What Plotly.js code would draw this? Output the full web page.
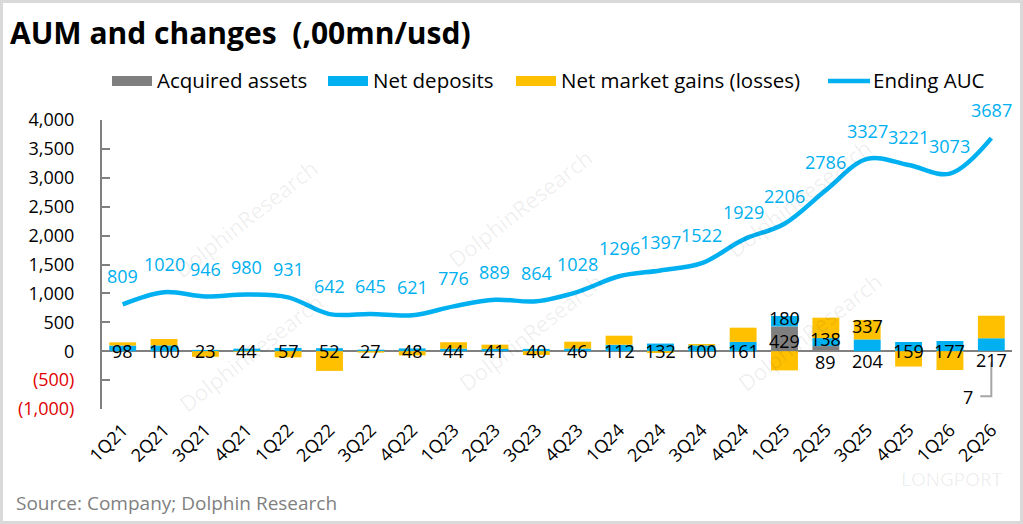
<!DOCTYPE html>
<html>
<head>
<meta charset="utf-8">
<script src="https://cdn.plot.ly/plotly-3.0.1.min.js"></script>
<style>
  html, body { margin: 0; padding: 0; background: #fff; }
  #graphDiv { width: 1023px; height: 524px; }
</style>
</head>
<body>
<div id="graphDiv"></div>
<script>
const quarters = ["1Q21","2Q21","3Q21","4Q21","1Q22","2Q22","3Q22","4Q22","1Q23","2Q23","3Q23","4Q23",
                  "1Q24","2Q24","3Q24","4Q24","1Q25","2Q25","3Q25","4Q25","1Q26","2Q26"];
const acquiredAssets = [0,0,0,0,0,0,0,0,0,0,0,0,0,0,0,0,429,89,0,0,0,7];
const netDeposits = [98,100,23,44,57,52,27,48,44,41,40,46,112,132,100,161,180,138,204,159,177,217];
const netMarket = [55,111,-97,-10,-106,-341,-24,-72,111,72,-65,118,156,-31,25,246,-332,353,337,-265,-325,390];
const endingAUC = [809,1020,946,980,931,642,645,621,776,889,864,1028,1296,1397,1522,1929,2206,2786,3327,3221,3073,3687];
const yTicks = [-1000,-500,0,500,1000,1500,2000,2500,3000,3500,4000];

const BLUE = "#00b0f0", GRAY = "#7f7f7f", GOLD = "#ffc000";
const FONT = "'Open Sans', 'Noto Sans', sans-serif";

// plot area in pixels
const L = 102, R = 1012, T = 120, B = 409;
function px(x) { return (x - L) / (R - L); }
function py(y) { return (B - y) / (B - T); }

function fmtTick(v) {
    let s = Math.abs(v).toLocaleString("en-US");
    return v < 0 ? '<span style="color:#e00000">(' + s + ')</span>' : s;
}

let traces = [
    {x: quarters, y: acquiredAssets, name: "Acquired assets", type: "bar", marker: {color: GRAY}, hoverinfo: "skip"},
    {x: quarters, y: netDeposits, name: "Net deposits", type: "bar", marker: {color: BLUE}, hoverinfo: "skip"},
    {x: quarters, y: netMarket, name: "Net market gains (losses)", type: "bar", marker: {color: GOLD}, hoverinfo: "skip"},
    {x: quarters, y: endingAUC, name: "Ending AUC", type: "scatter", mode: "lines",
     line: {color: BLUE, width: 4.5, shape: "spline", smoothing: 1}, hoverinfo: "skip"}
];

let annotations = [];
let shapes = [];

// Ending AUC labels above the line
endingAUC.forEach((v, i) => {
    annotations.push({x: quarters[i], y: v, text: String(v), showarrow: false, yshift: 28,
                      font: {family: FONT, size: 18, color: BLUE}});
});

// net deposit labels: on the axis, or mid-segment when sitting on acquired assets
const depBelow = {"3Q25": -10, "2Q26": -9};
netDeposits.forEach((v, i) => {
    let q = quarters[i];
    let y = 0, shift = 0;
    if (q in depBelow) { shift = depBelow[q]; }
    else if (acquiredAssets[i] > 0) { y = acquiredAssets[i] + v / 2; shift = 3; }
    annotations.push({x: q, y: y, text: String(v), showarrow: false, yshift: shift,
                      font: {family: FONT, size: 18, color: "#000"}});
});

// acquired assets labels
acquiredAssets.forEach((v, i) => {
    if (v <= 0) return;
    let q = quarters[i];
    let a = {x: q, y: v / 2, yshift: -2, text: String(v), showarrow: false, font: {family: FONT, size: 18, color: "#000"}};
    if (q === "2Q25") { a.y = 0; a.yshift = -11; }
    if (q === "2Q26") {
        a.y = 0; a.yshift = -46; a.xshift = -23;
        shapes.push({type: "path", xref: "x", yref: "y", xsizemode: "pixel", ysizemode: "pixel",
                     xanchor: q, yanchor: 0, path: "M -11,-45 L 0,-45 L 0,-11",
                     line: {color: "#a6a6a6", width: 2}});
    }
    annotations.push(a);
});

// market label shown only for 3Q25
let iq = quarters.indexOf("3Q25");
annotations.push({x: "3Q25", y: acquiredAssets[iq] + netDeposits[iq] + netMarket[iq] / 2, yshift: 4,
                  text: String(netMarket[iq]), showarrow: false, font: {family: FONT, size: 18, color: "#000"}});

// custom legend with wide swatches
const legendItems = [
    {name: "Acquired assets", color: GRAY, x: 112, kind: "bar"},
    {name: "Net deposits", color: BLUE, x: 328, kind: "bar"},
    {name: "Net market gains (losses)", color: GOLD, x: 516, kind: "bar"},
    {name: "Ending AUC", color: BLUE, x: 828, kind: "line"}
];
legendItems.forEach((it) => {
    if (it.kind === "bar") {
        shapes.push({type: "rect", xref: "paper", yref: "paper", x0: px(it.x), x1: px(it.x + 40),
                     y0: py(86), y1: py(76), fillcolor: it.color, line: {width: 0}});
    } else {
        shapes.push({type: "line", xref: "paper", yref: "paper", x0: px(it.x), x1: px(it.x + 42),
                     y0: py(81), y1: py(81), line: {color: it.color, width: 4.5}});
    }
    annotations.push({xref: "paper", yref: "paper", x: px(it.x + 43), y: py(80), xanchor: "left", yanchor: "middle",
                      text: it.name, showarrow: false, font: {family: FONT, size: 20.5, color: "#000"}});
});

// faint watermarks
const marks = [[165,150],[520,140],[880,130],[170,420],[530,400],[890,400]];
marks.forEach((m) => {
    annotations.push({xref: "paper", yref: "paper", x: px(m[0]), y: py(m[1]), text: "DolphinResearch",
                      textangle: -38, showarrow: false, font: {family: FONT, size: 22, color: "rgba(0,0,0,0.07)"}});
});
annotations.push({xref: "paper", yref: "paper", x: px(1005), y: py(494), xanchor: "right", text: "LONGPORT",
                  showarrow: false, font: {family: FONT, size: 19, color: "rgba(0,0,0,0.08)"}});

// source note
annotations.push({xref: "paper", yref: "paper", x: px(14), y: py(503), xanchor: "left", yanchor: "middle",
                  text: "Source: Company; Dolphin Research", showarrow: false,
                  font: {family: "'Liberation Sans Narrow', 'Open Sans', sans-serif", size: 19, color: "#7f7f7f"}});

// outer frame
shapes.push({type: "rect", xref: "paper", yref: "paper", x0: px(1.5), x1: px(1021.5), y0: py(522.5), y1: py(1.5),
             line: {color: "#d9d9d9", width: 3}, layer: "below"});

let layout = {
    width: 1023, height: 524,
    margin: {l: L, r: 1023 - R, t: T, b: 524 - B},
    paper_bgcolor: "#fff", plot_bgcolor: "#fff",
    showlegend: false,
    barmode: "relative", bargap: 0.35,
    title: {text: "<b>AUM and changes\u00a0\u00a0(,00mn/usd)</b>", x: 10 / 1023, xanchor: "left",
            xref: "container", y: 1 - 33 / 524, yanchor: "middle", yref: "container",
            font: {family: FONT, size: 30, color: "#000"}},
    xaxis: {type: "category", range: [-0.5, quarters.length - 0.5], tickangle: -45, showgrid: false,
            showline: false, ticks: "", zeroline: false, fixedrange: true, ticklabelstandoff: 6,
            tickfont: {family: FONT, size: 18, color: "#000"}},
    yaxis: {range: [-1000, 4000], tickvals: yTicks, ticktext: yTicks.map(fmtTick),
            showgrid: false, showline: true, linecolor: "#808080", linewidth: 2,
            ticks: "inside", ticklen: 8, tickwidth: 2, tickcolor: "#808080",
            zeroline: true, zerolinecolor: "#808080", zerolinewidth: 2,
            ticklabelstandoff: 22, layer: "above traces", fixedrange: true,
            tickfont: {family: FONT, size: 18, color: "#000"}},
    annotations: annotations,
    shapes: shapes
};

Plotly.newPlot("graphDiv", traces, layout, {displayModeBar: false, staticPlot: true});
</script>
</body>
</html>
